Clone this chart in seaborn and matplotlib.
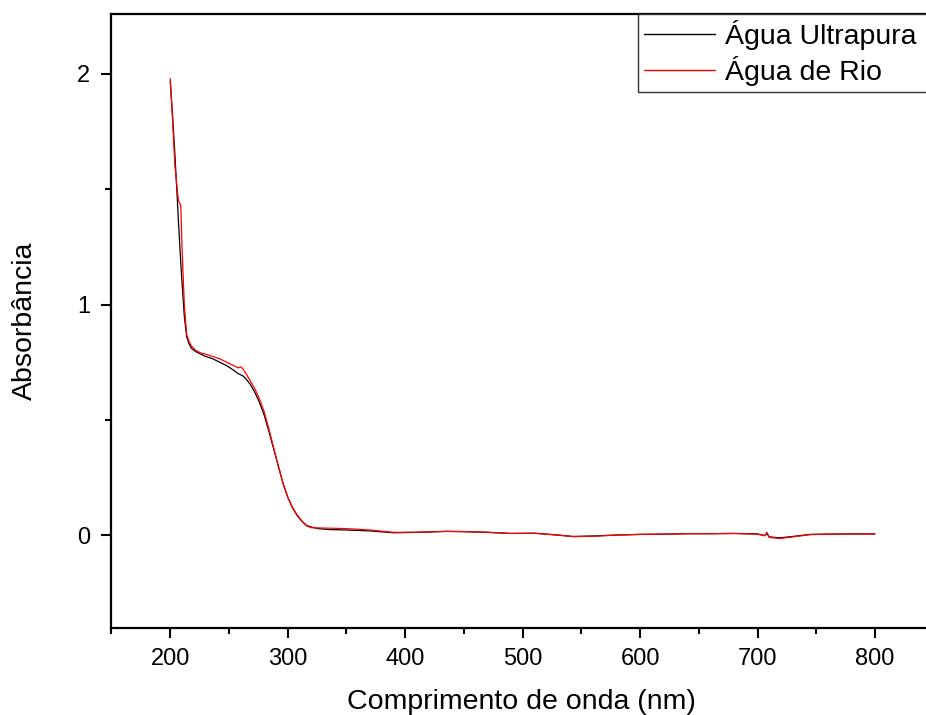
import matplotlib
matplotlib.use("Agg")
import matplotlib.pyplot as plt
from matplotlib.ticker import MultipleLocator
import seaborn as sns
import pandas as pd

# UV-Vis absorbance spectra (wavelength in nm)
wavelength = [200, 202, 204, 206, 207, 208, 209, 210, 212, 214, 216, 218, 222, 226,
              230, 236, 242, 248, 254, 258, 260, 262, 264, 268, 272, 276, 280, 284,
              288, 292, 296, 300, 304, 308, 312, 316, 320, 326, 335, 350, 370, 390,
              410, 435, 450, 470, 490, 510, 530, 543, 560, 580, 600, 620, 640, 660,
              680, 700, 706, 708, 710, 719, 730, 745, 760, 780, 800]

abs_ultrapura = [1.97, 1.82, 1.65, 1.46, 1.36, 1.27, 1.18, 1.10, 0.95, 0.86, 0.83, 0.81,
                 0.795, 0.785, 0.775, 0.765, 0.750, 0.735, 0.715, 0.700, 0.695, 0.690,
                 0.680, 0.655, 0.620, 0.575, 0.520, 0.450, 0.375, 0.300, 0.225, 0.165,
                 0.120, 0.085, 0.060, 0.042, 0.035, 0.028, 0.024, 0.022, 0.018, 0.010,
                 0.012, 0.016, 0.015, 0.012, 0.007, 0.008, 0.000, -0.006, -0.004, 0.000,
                 0.003, 0.004, 0.006, 0.006, 0.007, 0.005, -0.002, 0.006, -0.008, -0.012,
                 -0.006, 0.003, 0.004, 0.005, 0.005]

abs_rio = [1.98, 1.80, 1.60, 1.50, 1.45, 1.44, 1.43, 1.25, 1.00, 0.87, 0.84, 0.82,
           0.800, 0.790, 0.785, 0.775, 0.765, 0.750, 0.735, 0.725, 0.730, 0.720,
           0.705, 0.670, 0.635, 0.590, 0.535, 0.460, 0.380, 0.300, 0.225, 0.165,
           0.120, 0.088, 0.062, 0.040, 0.032, 0.031, 0.030, 0.028, 0.022, 0.012,
           0.012, 0.016, 0.015, 0.012, 0.007, 0.008, 0.000, -0.007, -0.005, 0.000,
           0.003, 0.004, 0.006, 0.006, 0.007, 0.004, -0.003, 0.012, -0.010, -0.015,
           -0.008, 0.002, 0.004, 0.005, 0.005]

series_names = ["Água Ultrapura", "Água de Rio"]
series_colors = ["#000000", "#ff0000"]

df = pd.concat([
    pd.DataFrame({"wl": wavelength, "A": abs_ultrapura, "amostra": series_names[0]}),
    pd.DataFrame({"wl": wavelength, "A": abs_rio, "amostra": series_names[1]}),
], ignore_index=True)

sns.set_style("ticks")
plt.rcParams["font.family"] = ["Liberation Sans", "DejaVu Sans"]
plt.rcParams["text.color"] = "black"
plt.rcParams["axes.labelcolor"] = "black"
plt.rcParams["xtick.color"] = "black"
plt.rcParams["ytick.color"] = "black"

fig = plt.figure(figsize=(9.26, 7.15), dpi=100)
ax = fig.add_axes([0.1204, 0.1217, 0.8879, 0.8587])

sns.lineplot(data=df, x="wl", y="A", hue="amostra", palette=series_colors,
             hue_order=series_names, sort=False, estimator=None,
             linewidth=0.9, ax=ax, legend=True)

ax.set_xlim(150, 850)
ax.set_ylim(-0.403, 2.26)
ax.xaxis.set_major_locator(MultipleLocator(100))
ax.xaxis.set_minor_locator(MultipleLocator(50))
ax.yaxis.set_major_locator(MultipleLocator(1))
ax.yaxis.set_minor_locator(MultipleLocator(0.5))

for side in ["left", "bottom", "top"]:
    ax.spines[side].set_visible(True)
    ax.spines[side].set_linewidth(1.6)
    ax.spines[side].set_color("black")
ax.spines["right"].set_visible(False)

ax.tick_params(which="major", direction="out", length=7.5, width=1.5,
               labelsize=17, colors="black")
ax.tick_params(which="minor", direction="out", length=4, width=1.5)
ax.tick_params(axis="x", which="major", pad=7)
ax.tick_params(axis="y", which="major", pad=8)
ax.tick_params(top=False, right=False, which="both")

ax.set_xlabel("Comprimento de onda (nm)", fontsize=20.5)
ax.set_ylabel("Absorbância", fontsize=20.5)
ax.xaxis.set_label_coords(0.498, -0.099)
ax.yaxis.set_label_coords(-0.09, 0.5)

# legend box runs past the right edge of the canvas
leg = ax.legend(loc="upper left", bbox_to_anchor=(0.640, 0.0, 0.5, 1.0),
                mode="expand", fontsize=20.5,
                frameon=True, fancybox=False, framealpha=1, borderaxespad=0,
                handlelength=2.5, handletextpad=0.35, labelspacing=0.2,
                borderpad=0.22)
leg.get_frame().set_edgecolor("#333333")
leg.get_frame().set_linewidth(1.0)
for line in leg.get_lines():
    line.set_linewidth(1.0)

fig.savefig("out.png", dpi=100)
